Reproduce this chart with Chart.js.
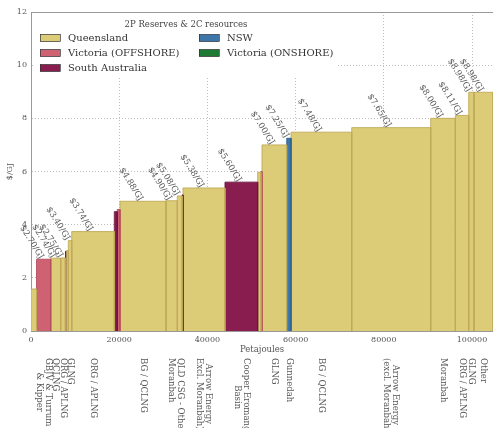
<!DOCTYPE html>
<html><head><meta charset="utf-8">
<script src="https://cdn.jsdelivr.net/npm/chart.js@4.4.1/dist/chart.umd.min.js"></script>
<style>html,body{margin:0;padding:0;background:#fff}#wrap{width:493px;height:428px}</style>
</head><body><div id="wrap"><canvas id="c" width="493" height="428"></canvas></div>
<script>
// volumes (PJ) and break-even prices ($/GJ), in supply-curve order
const volumes=[1250,3220,2260,1050,120,560,770,9660,680,610,10430,2560,1110,190,9520,7410,750,230,5600,980,13760,17910,5590,3030,1200,4310];
const prices=[1.58,2.70,2.74,2.75,3.00,3.02,3.40,3.74,4.49,4.57,4.88,4.90,5.08,5.12,5.38,5.60,5.97,6.00,7.00,7.25,7.48,7.65,8.00,8.11,8.98,8.98];
const regions=["QLD","VICOFF","QLD","QLD","SA","QLD","QLD","QLD","SA","VICOFF","QLD","QLD","QLD","SA","QLD","SA","QLD","VICOFF","QLD","NSW","QLD","QLD","QLD","QLD","QLD","QLD"];
const priceLabels=["","$2.70/GJ","$2.74/GJ","$2.75/GJ","","","$3.40/GJ","$3.74/GJ","","","$4.88/GJ","$4.90/GJ","$5.08/GJ","","$5.38/GJ","$5.60/GJ","","","$7.00/GJ","$7.25/GJ","$7.48/GJ","$7.65/GJ","$8.00/GJ","$8.11/GJ","$8.98/GJ","$8.98/GJ"];
const sourceLabels=["","GBJV & Turrum\n& Kipper","QCLNG","ORG / APLNG","","","GLNG","ORG / APLNG","","","BG / QCLNG","Moranbah","QLD CSG - Other","","Arrow Energy\nExcl. Moranbah)","Cooper Eromanga\nBasin","","","GLNG","Gunnedah","BG / QCLNG","Arrow Energy\n(excl. Moranbah)","Moranbah","ORG / APLNG","GLNG","Other"];
const regionKeys=["QLD","VICOFF","SA","NSW","VICON"];
const regionNames=["Queensland","Victoria (OFFSHORE)","South Australia","NSW","Victoria (ONSHORE)"];
const xTicks=[0,20000,40000,60000,80000,100000];
const yTicks=[0,2,4,6,8,10,12];

const fillCol={QLD:"#dccb77",VICOFF:"#cf6272",SA:"#8a1d50",NSW:"#3f76a9",VICON:"#1d7a33"};
const edgeCol={QLD:"#bfaa58",VICOFF:"#b34c5c",SA:"#6c143e",NSW:"#2e5f8e",VICON:"#125c24"};
const serif="'DejaVu Serif', serif";

let acc=0;const starts=volumes.map(v=>{const s=acc;acc+=v;return s;});
const totalPJ=acc;

const datasets=volumes.map((v,i)=>({
  label:regions[i],
  data:[{x:starts[i],y:0},{x:starts[i],y:prices[i]},{x:starts[i]+v,y:prices[i]},{x:starts[i]+v,y:0}],
  showLine:true,fill:"origin",tension:0,pointRadius:0,
  backgroundColor:fillCol[regions[i]],borderColor:edgeCol[regions[i]],borderWidth:0.9
}));

const extras={
  id:"extras",
  afterDraw(chart){
    const ctx=chart.ctx,xs=chart.scales.x,ys=chart.scales.y,a=chart.chartArea;
    ctx.save();
    // top frame
    ctx.strokeStyle="#999";ctx.lineWidth=1;
    ctx.beginPath();ctx.moveTo(a.left,a.top+0.5);ctx.lineTo(a.right,a.top+0.5);ctx.stroke();
    // price labels
    ctx.fillStyle="#555";ctx.font="8.5px "+serif;
    volumes.forEach((v,i)=>{
      if(!priceLabels[i])return;
      const cx=xs.getPixelForValue(starts[i]+v/2),ty=ys.getPixelForValue(prices[i]);
      ctx.save();ctx.translate(cx-2,ty-1);ctx.rotate(58*Math.PI/180);
      ctx.textAlign="right";ctx.textBaseline="middle";ctx.fillText(priceLabels[i],0,0);ctx.restore();
    });
    // source labels below the axis
    ctx.font="8.5px "+serif;
    volumes.forEach((v,i)=>{
      if(!sourceLabels[i])return;
      const lines=sourceLabels[i].split("\n"),cx=xs.getPixelForValue(starts[i]+v/2);
      const widths=lines.map(l=>ctx.measureText(l).width),maxW=Math.max(...widths);
      ctx.save();ctx.translate(cx,358);ctx.rotate(Math.PI/2);
      ctx.textAlign="left";ctx.textBaseline="middle";
      lines.forEach((l,k)=>ctx.fillText(l,(maxW-widths[k])/2,(k-(lines.length-1)/2)*9));
      ctx.restore();
    });
    ctx.textAlign="center";ctx.textBaseline="middle";
    ctx.fillText("Petajoules",(a.left+a.right)/2,350);
    // legend
    ctx.fillStyle="#fff";ctx.fillRect(35,15,302,61);
    ctx.fillStyle="#444";ctx.font="8.5px "+serif;
    ctx.fillText("2P Reserves & 2C resources",186,25);
    ctx.font="10px "+serif;ctx.textAlign="left";
    regionKeys.forEach((k,i)=>{
      const col=i<3?0:1,row=i<3?i:i-3,x=col?199:40,y=38+row*15;
      ctx.fillStyle=fillCol[k];ctx.fillRect(x,y-3.5,20,7);
      ctx.strokeStyle="#333";ctx.lineWidth=0.7;ctx.strokeRect(x+0.5,y-3.5,20,7);
      ctx.fillStyle="#333";ctx.fillText(regionNames[i],x+28,y+0.5);
    });
    ctx.restore();
  }
};

const tickFont={family:serif,size:8};
new Chart(document.getElementById("c"),{
  type:"scatter",
  data:{datasets},
  options:{
    responsive:false,animation:false,devicePixelRatio:1,
    layout:{padding:{top:12,right:0,left:0,bottom:0}},
    plugins:{legend:{display:false},tooltip:{enabled:false}},
    scales:{
      x:{type:"linear",min:0,max:totalPJ,z:1,
        afterBuildTicks:s=>{s.ticks=xTicks.map(v=>({value:v}));},
        afterFit:s=>{s.height=97;},
        grid:{color:"#bdbdbd",drawTicks:false},
        border:{display:true,color:"#999",dash:[1,2]},
        ticks:{padding:4,color:"#555",font:tickFont,maxRotation:0,autoSkip:false,callback:v=>String(v)}},
      y:{min:0,max:12,z:1,
        afterBuildTicks:s=>{s.ticks=yTicks.map(v=>({value:v}));},
        afterFit:s=>{s.width=31;},
        grid:{color:"#bdbdbd",drawTicks:false},
        border:{display:true,color:"#999",dash:[1,2]},
        ticks:{padding:4,color:"#555",font:tickFont,callback:v=>String(v)},
        title:{display:true,text:"$/GJ",color:"#555",font:tickFont,padding:{top:5,bottom:2}}}
    }
  },
  plugins:[extras]
});
</script></body></html>
